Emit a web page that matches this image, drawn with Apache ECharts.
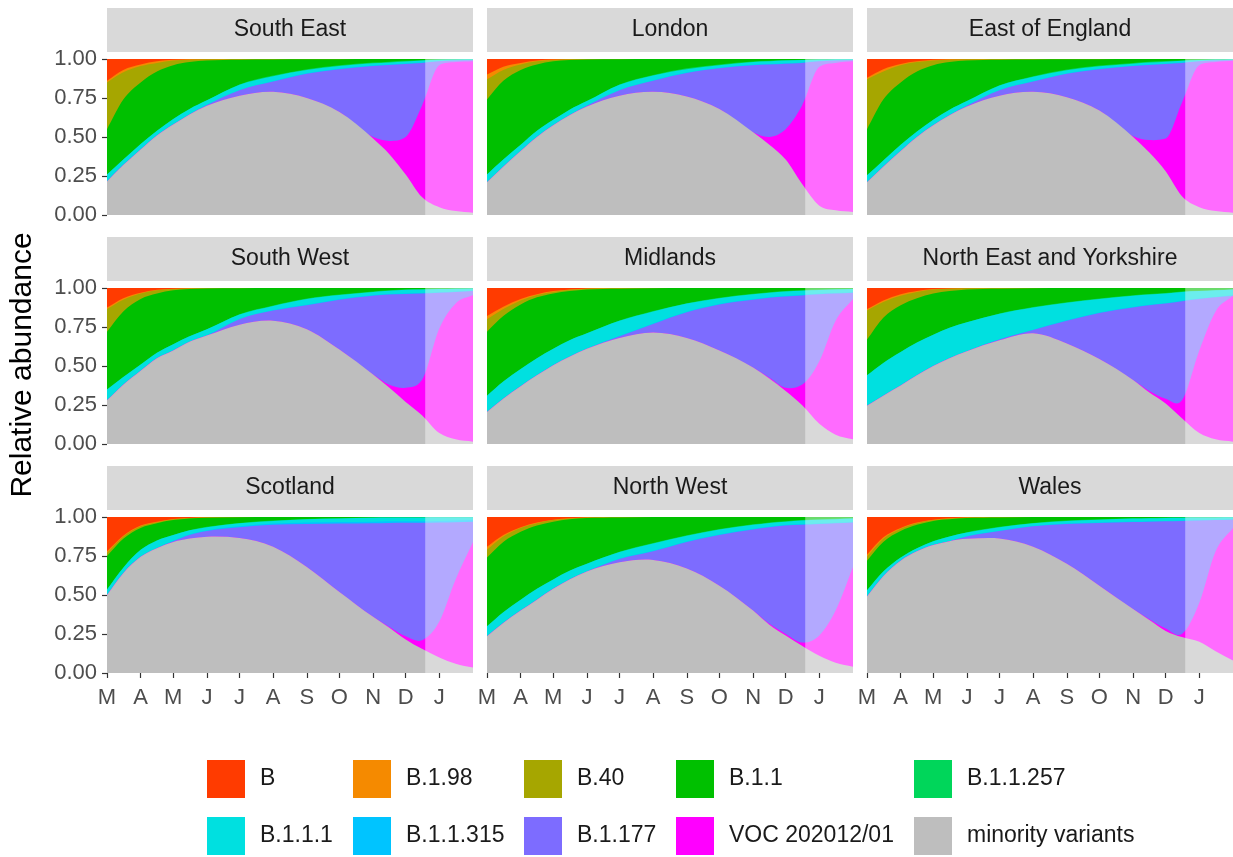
<!DOCTYPE html>
<html>
<head>
<meta charset="utf-8">
<title>Relative abundance of SARS-CoV-2 lineages by region</title>
<script src="https://cdn.jsdelivr.net/npm/echarts@6/dist/echarts.min.js"></script>
<style>
  html, body { margin: 0; padding: 0; background: #ffffff; }
  #chart { width: 1233px; height: 857px; }
</style>
</head>
<body>
<div id="chart"></div>
<script>
// Facet titles, in panel order (row by row)
const regions = ['South East', 'London', 'East of England',
                 'South West', 'Midlands', 'North East and Yorkshire',
                 'Scotland', 'North West', 'Wales'];

// Lineages, top of the stack first
const lineages = ['B', 'B.1.98', 'B.40', 'B.1.1', 'B.1.1.257',
                  'B.1.1.1', 'B.1.1.315', 'B.1.177', 'VOC 202012/01', 'minority variants'];
const lineageColors = ['#ff3b00', '#f58a00', '#a6a600', '#00c000', '#00d65a',
                       '#00e0e0', '#00c4ff', '#7d6cff', '#ff00ff', '#bebebe'];

// Days since 1 March 2020 at which the fitted shares are sampled
const sampleDays = [0, 15, 31, 46, 61, 76, 92, 122, 153, 184, 214, 245, 260, 275, 290, 306, 321, 337];
const monthStarts = [0, 31, 61, 92, 122, 153, 184, 214, 245, 275, 306];
const monthLetters = ['M', 'A', 'M', 'J', 'J', 'A', 'S', 'O', 'N', 'D', 'J'];
const dayMax = 337;        // 1 February 2021
const forecastStart = 293; // projection beyond the last sampled data

// Each row: upper edge of a lineage's band (cumulative relative abundance,
// counted from minority variants upwards), one value per sample day.
const southEast = [
  [1, 1, 1, 1, 1, 1, 1, 1, 1, 1, 1, 1, 1, 1, 1, 1, 1, 1],
  [0.86, 0.93, 0.965, 0.985, 0.995, 0.998, 0.999, 1, 1, 1, 1, 1, 1, 1, 1, 1, 1, 1],
  [0.85, 0.915, 0.955, 0.975, 0.99, 0.995, 0.998, 0.999, 1, 1, 1, 1, 1, 1, 1, 1, 1, 1],
  [0.55, 0.74, 0.85, 0.92, 0.96, 0.98, 0.99, 0.995, 0.997, 0.998, 0.999, 1, 1, 1, 1, 1, 1, 1],
  [0.26, 0.355, 0.455, 0.54, 0.615, 0.68, 0.735, 0.837, 0.894, 0.935, 0.96, 0.977, 0.983, 0.988, 0.992, 0.996, 0.998, 0.999],
  [0.26, 0.355, 0.455, 0.54, 0.615, 0.68, 0.735, 0.835, 0.89, 0.93, 0.955, 0.972, 0.978, 0.984, 0.99, 0.995, 0.997, 0.998],
  [0.215, 0.32, 0.42, 0.51, 0.58, 0.645, 0.705, 0.80, 0.857, 0.908, 0.938, 0.958, 0.965, 0.971, 0.978, 0.987, 0.991, 0.994],
  [0.215, 0.32, 0.42, 0.51, 0.58, 0.645, 0.705, 0.80, 0.855, 0.905, 0.935, 0.955, 0.962, 0.968, 0.975, 0.985, 0.99, 0.993],
  [0.215, 0.32, 0.42, 0.51, 0.58, 0.645, 0.70, 0.765, 0.79, 0.75, 0.66, 0.50, 0.475, 0.50, 0.70, 0.96, 0.98, 0.985],
  [0.215, 0.32, 0.42, 0.51, 0.58, 0.645, 0.70, 0.765, 0.79, 0.75, 0.66, 0.49, 0.39, 0.26, 0.115, 0.05, 0.025, 0.015]
];
const london = [
  [1, 1, 1, 1, 1, 1, 1, 1, 1, 1, 1, 1, 1, 1, 1, 1, 1, 1],
  [0.90, 0.95, 0.975, 0.99, 0.996, 0.999, 1, 1, 1, 1, 1, 1, 1, 1, 1, 1, 1, 1],
  [0.87, 0.93, 0.965, 0.985, 0.994, 0.998, 0.999, 1, 1, 1, 1, 1, 1, 1, 1, 1, 1, 1],
  [0.74, 0.86, 0.93, 0.965, 0.985, 0.993, 0.997, 0.999, 1, 1, 1, 1, 1, 1, 1, 1, 1, 1],
  [0.26, 0.355, 0.45, 0.54, 0.61, 0.675, 0.73, 0.837, 0.898, 0.94, 0.965, 0.984, 0.988, 0.993, 0.995, 0.997, 0.999, 1],
  [0.26, 0.355, 0.45, 0.54, 0.61, 0.675, 0.73, 0.835, 0.895, 0.935, 0.96, 0.98, 0.985, 0.99, 0.993, 0.996, 0.998, 0.999],
  [0.21, 0.31, 0.41, 0.50, 0.575, 0.64, 0.70, 0.80, 0.862, 0.913, 0.943, 0.963, 0.968, 0.973, 0.978, 0.988, 0.992, 0.995],
  [0.21, 0.31, 0.41, 0.50, 0.575, 0.64, 0.70, 0.80, 0.86, 0.91, 0.94, 0.96, 0.965, 0.97, 0.975, 0.985, 0.99, 0.993],
  [0.21, 0.31, 0.41, 0.50, 0.575, 0.64, 0.695, 0.765, 0.79, 0.76, 0.68, 0.53, 0.50, 0.55, 0.70, 0.95, 0.975, 0.985],
  [0.21, 0.31, 0.41, 0.50, 0.575, 0.64, 0.695, 0.765, 0.79, 0.76, 0.68, 0.53, 0.45, 0.355, 0.20, 0.06, 0.03, 0.02]
];
const eastOfEngland = [
  [1, 1, 1, 1, 1, 1, 1, 1, 1, 1, 1, 1, 1, 1, 1, 1, 1, 1],
  [0.88, 0.935, 0.968, 0.985, 0.995, 0.998, 0.999, 1, 1, 1, 1, 1, 1, 1, 1, 1, 1, 1],
  [0.87, 0.92, 0.96, 0.98, 0.99, 0.995, 0.998, 0.999, 1, 1, 1, 1, 1, 1, 1, 1, 1, 1],
  [0.55, 0.74, 0.85, 0.92, 0.96, 0.98, 0.99, 0.995, 0.997, 0.998, 0.999, 1, 1, 1, 1, 1, 1, 1],
  [0.255, 0.35, 0.45, 0.535, 0.61, 0.675, 0.73, 0.832, 0.89, 0.932, 0.958, 0.975, 0.982, 0.987, 0.991, 0.995, 0.997, 0.999],
  [0.255, 0.35, 0.45, 0.535, 0.61, 0.675, 0.73, 0.83, 0.887, 0.928, 0.953, 0.97, 0.977, 0.983, 0.988, 0.993, 0.996, 0.998],
  [0.21, 0.31, 0.41, 0.50, 0.575, 0.64, 0.70, 0.80, 0.857, 0.907, 0.937, 0.957, 0.964, 0.97, 0.977, 0.986, 0.99, 0.994],
  [0.21, 0.31, 0.41, 0.50, 0.575, 0.64, 0.70, 0.80, 0.855, 0.905, 0.935, 0.955, 0.962, 0.968, 0.975, 0.985, 0.99, 0.993],
  [0.21, 0.31, 0.41, 0.50, 0.575, 0.64, 0.695, 0.765, 0.79, 0.755, 0.67, 0.505, 0.48, 0.49, 0.72, 0.96, 0.98, 0.988],
  [0.21, 0.31, 0.41, 0.50, 0.575, 0.64, 0.695, 0.765, 0.79, 0.755, 0.67, 0.50, 0.40, 0.28, 0.12, 0.05, 0.025, 0.015]
];
const southWest = [
  [1, 1, 1, 1, 1, 1, 1, 1, 1, 1, 1, 1, 1, 1, 1, 1, 1, 1],
  [0.875, 0.935, 0.97, 0.988, 0.995, 0.998, 1, 1, 1, 1, 1, 1, 1, 1, 1, 1, 1, 1],
  [0.865, 0.925, 0.965, 0.985, 0.993, 0.997, 0.999, 1, 1, 1, 1, 1, 1, 1, 1, 1, 1, 1],
  [0.72, 0.85, 0.93, 0.965, 0.985, 0.993, 0.997, 0.999, 1, 1, 1, 1, 1, 1, 1, 1, 1, 1],
  [0.35, 0.43, 0.51, 0.585, 0.64, 0.69, 0.735, 0.832, 0.888, 0.933, 0.958, 0.978, 0.985, 0.99, 0.992, 0.995, 0.997, 0.998],
  [0.35, 0.43, 0.51, 0.585, 0.64, 0.69, 0.735, 0.83, 0.885, 0.93, 0.955, 0.975, 0.982, 0.988, 0.99, 0.993, 0.995, 0.997],
  [0.28, 0.38, 0.47, 0.55, 0.60, 0.655, 0.697, 0.80, 0.857, 0.893, 0.928, 0.953, 0.961, 0.965, 0.968, 0.973, 0.978, 0.983],
  [0.28, 0.38, 0.47, 0.55, 0.60, 0.655, 0.695, 0.80, 0.855, 0.89, 0.925, 0.95, 0.958, 0.962, 0.965, 0.97, 0.975, 0.98],
  [0.28, 0.38, 0.47, 0.55, 0.60, 0.655, 0.695, 0.765, 0.79, 0.735, 0.605, 0.445, 0.38, 0.36, 0.41, 0.74, 0.90, 0.955],
  [0.28, 0.38, 0.47, 0.55, 0.60, 0.655, 0.695, 0.765, 0.79, 0.735, 0.605, 0.445, 0.36, 0.27, 0.185, 0.07, 0.03, 0.015]
];
const midlands = [
  [1, 1, 1, 1, 1, 1, 1, 1, 1, 1, 1, 1, 1, 1, 1, 1, 1, 1],
  [0.82, 0.88, 0.93, 0.96, 0.98, 0.99, 0.997, 1, 1, 1, 1, 1, 1, 1, 1, 1, 1, 1],
  [0.80, 0.865, 0.92, 0.955, 0.975, 0.988, 0.995, 0.998, 1, 1, 1, 1, 1, 1, 1, 1, 1, 1],
  [0.72, 0.82, 0.895, 0.94, 0.965, 0.98, 0.99, 0.995, 0.998, 1, 1, 1, 1, 1, 1, 1, 1, 1],
  [0.31, 0.40, 0.48, 0.55, 0.61, 0.665, 0.71, 0.792, 0.853, 0.903, 0.938, 0.963, 0.973, 0.98, 0.985, 0.99, 0.993, 0.995],
  [0.31, 0.40, 0.48, 0.55, 0.61, 0.665, 0.71, 0.79, 0.85, 0.90, 0.935, 0.96, 0.97, 0.977, 0.982, 0.987, 0.99, 0.993],
  [0.205, 0.29, 0.37, 0.44, 0.505, 0.56, 0.61, 0.692, 0.773, 0.848, 0.898, 0.928, 0.94, 0.948, 0.955, 0.963, 0.968, 0.973],
  [0.205, 0.29, 0.37, 0.44, 0.505, 0.56, 0.61, 0.69, 0.77, 0.845, 0.895, 0.925, 0.937, 0.945, 0.952, 0.96, 0.965, 0.97],
  [0.205, 0.29, 0.37, 0.44, 0.505, 0.56, 0.61, 0.68, 0.715, 0.68, 0.60, 0.49, 0.425, 0.36, 0.38, 0.53, 0.79, 0.93],
  [0.205, 0.29, 0.37, 0.44, 0.505, 0.56, 0.61, 0.68, 0.715, 0.68, 0.60, 0.49, 0.42, 0.34, 0.25, 0.13, 0.06, 0.03]
];
const northEastYorkshire = [
  [1, 1, 1, 1, 1, 1, 1, 1, 1, 1, 1, 1, 1, 1, 1, 1, 1, 1],
  [0.865, 0.92, 0.96, 0.98, 0.993, 0.997, 0.999, 1, 1, 1, 1, 1, 1, 1, 1, 1, 1, 1],
  [0.855, 0.91, 0.95, 0.975, 0.99, 0.995, 0.998, 1, 1, 1, 1, 1, 1, 1, 1, 1, 1, 1],
  [0.67, 0.81, 0.89, 0.935, 0.965, 0.98, 0.99, 0.995, 0.998, 1, 1, 1, 1, 1, 1, 1, 1, 1],
  [0.44, 0.52, 0.59, 0.65, 0.70, 0.745, 0.78, 0.837, 0.878, 0.908, 0.933, 0.953, 0.961, 0.968, 0.977, 0.982, 0.987, 0.992],
  [0.44, 0.52, 0.59, 0.65, 0.70, 0.745, 0.78, 0.835, 0.875, 0.905, 0.93, 0.95, 0.958, 0.965, 0.975, 0.98, 0.985, 0.99],
  [0.245, 0.31, 0.375, 0.44, 0.50, 0.55, 0.595, 0.672, 0.733, 0.793, 0.843, 0.878, 0.893, 0.903, 0.918, 0.933, 0.943, 0.953],
  [0.245, 0.31, 0.375, 0.44, 0.50, 0.55, 0.595, 0.67, 0.73, 0.79, 0.84, 0.875, 0.89, 0.90, 0.915, 0.93, 0.94, 0.95],
  [0.245, 0.31, 0.375, 0.44, 0.50, 0.55, 0.595, 0.665, 0.71, 0.645, 0.545, 0.41, 0.34, 0.29, 0.28, 0.60, 0.85, 0.95],
  [0.245, 0.31, 0.375, 0.44, 0.50, 0.55, 0.595, 0.665, 0.71, 0.645, 0.545, 0.41, 0.33, 0.26, 0.165, 0.07, 0.03, 0.015]
];
const scotland = [
  [1, 1, 1, 1, 1, 1, 1, 1, 1, 1, 1, 1, 1, 1, 1, 1, 1, 1],
  [0.78, 0.88, 0.945, 0.97, 0.987, 0.994, 0.998, 1, 1, 1, 1, 1, 1, 1, 1, 1, 1, 1],
  [0.77, 0.875, 0.94, 0.967, 0.985, 0.993, 0.997, 1, 1, 1, 1, 1, 1, 1, 1, 1, 1, 1],
  [0.75, 0.86, 0.93, 0.96, 0.98, 0.99, 0.995, 0.998, 1, 1, 1, 1, 1, 1, 1, 1, 1, 1],
  [0.535, 0.675, 0.79, 0.85, 0.885, 0.915, 0.937, 0.962, 0.977, 0.987, 0.992, 0.996, 0.997, 0.998, 0.998, 0.999, 0.999, 1],
  [0.535, 0.675, 0.79, 0.85, 0.885, 0.915, 0.935, 0.96, 0.975, 0.985, 0.99, 0.995, 0.996, 0.997, 0.997, 0.998, 0.998, 0.999],
  [0.50, 0.64, 0.745, 0.80, 0.847, 0.888, 0.913, 0.94, 0.958, 0.965, 0.968, 0.97, 0.972, 0.973, 0.973, 0.975, 0.977, 0.98],
  [0.50, 0.64, 0.745, 0.80, 0.845, 0.885, 0.91, 0.935, 0.95, 0.955, 0.958, 0.96, 0.962, 0.963, 0.963, 0.965, 0.967, 0.97],
  [0.50, 0.64, 0.745, 0.80, 0.84, 0.862, 0.873, 0.866, 0.81, 0.68, 0.52, 0.36, 0.295, 0.235, 0.21, 0.33, 0.60, 0.84],
  [0.50, 0.64, 0.745, 0.80, 0.84, 0.862, 0.873, 0.866, 0.81, 0.68, 0.52, 0.36, 0.29, 0.215, 0.155, 0.10, 0.06, 0.035]
];
const northWest = [
  [1, 1, 1, 1, 1, 1, 1, 1, 1, 1, 1, 1, 1, 1, 1, 1, 1, 1],
  [0.81, 0.885, 0.935, 0.965, 0.983, 0.992, 0.997, 1, 1, 1, 1, 1, 1, 1, 1, 1, 1, 1],
  [0.79, 0.875, 0.93, 0.96, 0.98, 0.99, 0.996, 1, 1, 1, 1, 1, 1, 1, 1, 1, 1, 1],
  [0.74, 0.84, 0.905, 0.945, 0.97, 0.985, 0.993, 0.997, 1, 1, 1, 1, 1, 1, 1, 1, 1, 1],
  [0.30, 0.39, 0.47, 0.54, 0.60, 0.655, 0.70, 0.777, 0.833, 0.883, 0.923, 0.953, 0.965, 0.973, 0.98, 0.985, 0.989, 0.992],
  [0.30, 0.39, 0.47, 0.54, 0.60, 0.655, 0.70, 0.775, 0.83, 0.88, 0.92, 0.95, 0.962, 0.97, 0.977, 0.982, 0.986, 0.99],
  [0.235, 0.32, 0.40, 0.47, 0.54, 0.60, 0.65, 0.732, 0.783, 0.843, 0.888, 0.923, 0.938, 0.948, 0.953, 0.958, 0.963, 0.968],
  [0.235, 0.32, 0.40, 0.47, 0.54, 0.60, 0.65, 0.73, 0.78, 0.84, 0.885, 0.92, 0.935, 0.945, 0.95, 0.955, 0.96, 0.965],
  [0.235, 0.32, 0.40, 0.47, 0.54, 0.60, 0.65, 0.71, 0.725, 0.67, 0.56, 0.40, 0.315, 0.25, 0.195, 0.24, 0.40, 0.68],
  [0.235, 0.32, 0.40, 0.47, 0.54, 0.60, 0.65, 0.71, 0.725, 0.67, 0.56, 0.40, 0.31, 0.24, 0.175, 0.11, 0.065, 0.04]
];
const wales = [
  [1, 1, 1, 1, 1, 1, 1, 1, 1, 1, 1, 1, 1, 1, 1, 1, 1, 1],
  [0.76, 0.87, 0.93, 0.965, 0.983, 0.992, 0.997, 1, 1, 1, 1, 1, 1, 1, 1, 1, 1, 1],
  [0.745, 0.86, 0.925, 0.96, 0.98, 0.99, 0.996, 1, 1, 1, 1, 1, 1, 1, 1, 1, 1, 1],
  [0.72, 0.84, 0.91, 0.95, 0.975, 0.985, 0.993, 0.997, 1, 1, 1, 1, 1, 1, 1, 1, 1, 1],
  [0.53, 0.65, 0.74, 0.80, 0.845, 0.875, 0.902, 0.937, 0.962, 0.977, 0.985, 0.992, 0.994, 0.996, 0.997, 0.998, 0.998, 0.999],
  [0.53, 0.65, 0.74, 0.80, 0.845, 0.875, 0.90, 0.935, 0.96, 0.975, 0.983, 0.99, 0.992, 0.994, 0.995, 0.996, 0.997, 0.998],
  [0.49, 0.62, 0.72, 0.78, 0.82, 0.845, 0.877, 0.912, 0.943, 0.958, 0.965, 0.971, 0.973, 0.975, 0.978, 0.981, 0.983, 0.985],
  [0.49, 0.62, 0.72, 0.78, 0.82, 0.845, 0.875, 0.91, 0.94, 0.955, 0.962, 0.968, 0.97, 0.972, 0.975, 0.978, 0.98, 0.982],
  [0.49, 0.62, 0.72, 0.78, 0.82, 0.845, 0.86, 0.862, 0.81, 0.70, 0.56, 0.41, 0.345, 0.285, 0.25, 0.45, 0.78, 0.93],
  [0.49, 0.62, 0.72, 0.78, 0.82, 0.845, 0.86, 0.862, 0.81, 0.70, 0.56, 0.41, 0.34, 0.27, 0.23, 0.20, 0.14, 0.08]
];
const regionBands = [southEast, london, eastOfEngland, southWest, midlands,
                     northEastYorkshire, scotland, northWest, wales];

// Panel geometry (pixels)
const colLeft = [107, 487, 867];
const rowTop = [59, 288, 517];
const panelW = 366, panelH = 156, stripH = 44, stripGap = 7;
const FONT = 'Liberation Sans, Arial, sans-serif';

// Tangents for a smooth curve through (xs, ys): three-point slope estimate,
// limited on monotone stretches so the curve does not overshoot.
function curveSlopes(xs, ys) {
  const n = xs.length, m = new Array(n);
  for (let i = 1; i < n - 1; i++) {
    const h0 = xs[i] - xs[i - 1], h1 = xs[i + 1] - xs[i];
    const s0 = (ys[i] - ys[i - 1]) / h0, s1 = (ys[i + 1] - ys[i]) / h1;
    let p = (s0 * h1 + s1 * h0) / (h0 + h1);
    if (s0 * s1 > 0) {
      const lim = 3 * Math.min(Math.abs(s0), Math.abs(s1));
      if (Math.abs(p) > lim) p = Math.sign(p) * lim;
    } else if (s0 === 0 || s1 === 0) {
      p = 0;
    }
    m[i] = p;
  }
  m[0] = (ys[1] - ys[0]) / (xs[1] - xs[0]);
  m[n - 1] = (ys[n - 1] - ys[n - 2]) / (xs[n - 1] - xs[n - 2]);
  return m;
}

// Area under a smooth edge, drawn once per band through the axis scales
function bandRenderer(edge) {
  const slopes = curveSlopes(sampleDays, edge);
  return function (params, api) {
    if (params.dataIndex !== 0) return null;
    const pt = (x, y) => api.coord([x, y]);
    const p0 = pt(sampleDays[0], edge[0]);
    let d = 'M' + p0[0] + ' ' + p0[1];
    for (let i = 0; i < sampleDays.length - 1; i++) {
      const x0 = sampleDays[i], x1 = sampleDays[i + 1], h = x1 - x0;
      const c1 = pt(x0 + h / 3, edge[i] + slopes[i] * h / 3);
      const c2 = pt(x1 - h / 3, edge[i + 1] - slopes[i + 1] * h / 3);
      const e = pt(x1, edge[i + 1]);
      d += ' C' + c1[0] + ' ' + c1[1] + ' ' + c2[0] + ' ' + c2[1] + ' ' + e[0] + ' ' + e[1];
    }
    const bR = pt(sampleDays[sampleDays.length - 1], 0), bL = pt(sampleDays[0], 0);
    d += ' L' + bR[0] + ' ' + bR[1] + ' L' + bL[0] + ' ' + bL[1] + ' Z';
    return {
      type: 'path',
      shape: { pathData: d },
      style: { fill: api.visual('color'), stroke: null }
    };
  };
}

const grids = [], xAxes = [], yAxes = [], series = [], graphics = [];

regions.forEach((region, i) => {
  const col = i % 3, row = Math.floor(i / 3);
  const left = colLeft[col], top = rowTop[row];
  grids.push({ left: left, top: top, width: panelW, height: panelH, containLabel: false });

  const bottomRow = row === 2, leftCol = col === 0;
  xAxes.push({
    type: 'value', gridIndex: i, min: 0, max: dayMax,
    axisLine: { show: false }, splitLine: { show: false },
    axisTick: { show: bottomRow, customValues: monthStarts, length: 5,
                lineStyle: { color: '#333333', width: 1.2 } },
    axisLabel: { show: bottomRow, customValues: monthStarts, margin: 14,
                 color: '#4d4d4d', fontSize: 22, fontFamily: FONT,
                 formatter: v => monthLetters[monthStarts.indexOf(v)] }
  });
  yAxes.push({
    type: 'value', gridIndex: i, min: 0, max: 1, interval: 0.25,
    axisLine: { show: false }, splitLine: { show: false },
    axisTick: { show: leftCol, length: 5, lineStyle: { color: '#333333', width: 1.2 } },
    axisLabel: { show: leftCol, margin: 10, color: '#4d4d4d', fontSize: 22,
                 fontFamily: FONT, formatter: v => v.toFixed(2) }
  });

  // Stacked bands: each area fills from 0 up to the lineage's cumulative edge;
  // later (lower) lineages paint over earlier ones.
  regionBands[i].forEach((edge, k) => {
    series.push({
      type: 'custom', name: lineages[k], xAxisIndex: i, yAxisIndex: i,
      coordinateSystem: 'cartesian2d', clip: true, silent: true, z: 2,
      itemStyle: { color: lineageColors[k] },
      data: sampleDays.map((d, j) => [d, edge[j]]),
      renderItem: bandRenderer(edge)
    });
  });

  // Pale veil over the projected period
  series.push({
    type: 'custom', xAxisIndex: i, yAxisIndex: i, coordinateSystem: 'cartesian2d',
    silent: true, z: 5, clip: true,
    data: [[forecastStart, dayMax]],
    renderItem: (params, api) => {
      const a = api.coord([api.value(0), 1]);
      const b = api.coord([api.value(1), 0]);
      return {
        type: 'rect',
        shape: { x: a[0], y: a[1], width: b[0] - a[0], height: b[1] - a[1] },
        style: { fill: 'rgba(255,255,255,0.42)', stroke: null }
      };
    }
  });

  // Facet strip
  graphics.push({
    type: 'rect', left: left, top: top - stripGap - stripH, silent: true,
    shape: { width: panelW, height: stripH }, style: { fill: '#d9d9d9' }
  });
  graphics.push({
    type: 'text', x: left + panelW / 2, y: top - stripGap - stripH / 2, silent: true,
    style: { text: region, fill: '#1a1a1a', fontSize: 23, fontFamily: FONT,
             align: 'center', verticalAlign: 'middle' }
  });
});

// Shared y-axis title
graphics.push({
  type: 'text', x: 23, y: 365, rotation: Math.PI / 2, silent: true,
  style: { text: 'Relative abundance', fill: '#000000', fontSize: 30, fontFamily: FONT,
           align: 'center', verticalAlign: 'middle' }
});

// Legend: five columns of two keys each
const legendColumns = [[0, 5], [1, 6], [2, 7], [3, 8], [4, 9]];
const legendLeft = [207, 353, 524, 676, 914];
const legends = legendColumns.map((pair, c) => ({
  orient: 'vertical', left: legendLeft[c], top: 760, padding: 0,
  icon: 'rect', itemWidth: 38, itemHeight: 38, itemGap: 19,
  selectedMode: false,
  itemStyle: { borderWidth: 0 },
  textStyle: { fontSize: 23, color: '#1a1a1a', padding: [0, 0, 0, 10], fontFamily: FONT },
  data: pair.map(k => lineages[k])
}));

const chart = echarts.init(document.getElementById('chart'), null, { renderer: 'canvas' });
chart.setOption({
  animation: false,
  backgroundColor: '#ffffff',
  grid: grids,
  xAxis: xAxes,
  yAxis: yAxes,
  legend: legends,
  series: series,
  graphic: graphics
});
</script>
</body>
</html>
